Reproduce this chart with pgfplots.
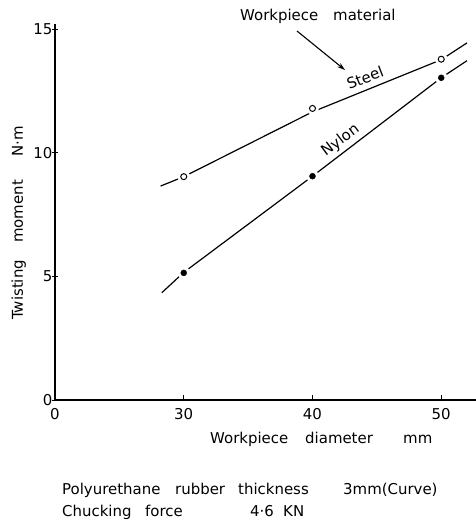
\documentclass[border=0pt]{standalone}
\usepackage{pgfplots}
\pgfplotsset{compat=1.18}
\usepackage{pgfplotstable}
\usetikzlibrary{arrows.meta}
\usepackage{fontspec}
\setmainfont{DejaVu Sans}
\pgfplotstableread{
x y
28.2 8.65
30 9.03
40 11.65
50 13.76
52.0 14.44
}\steelline
\pgfplotstableread{
x y
30 9.03
40 11.79
50 13.78
}\steelpts
\pgfplotstableread{
x y
28.3 4.34
30 5.16
40 9.05
50 13.03
52.0 13.72
}\nylonline
\pgfplotstableread{
x y
30 5.14
40 9.05
50 13.03
}\nylonpts
\begin{document}
\fontsize{15}{18}\selectfont
\begin{tikzpicture}
\path[use as bounding box] (-55bp,-126bp) rectangle (421bp,400bp);
\begin{axis}[
  at={(0,0)}, anchor=south west,
  scale only axis, width=421bp, height=375.9bp,
  xmin=0, xmax=32.7, ymin=0, ymax=15.2,
  axis x line=bottom, axis y line=left,
  axis line style={-, line width=1.2bp},
  xtick={0,10,20,30}, xticklabels={0,30,40,50},
  ytick={0,5,10,15},
  major tick length=5bp,
  tick style={line width=0.9bp, black},
  x tick style={/pgfplots/tick align=inside},
  /pgf/number format/assume math mode=true,
  tick label style={font=\fontsize{15}{18}\selectfont},
  yticklabel style={xshift=5bp},
  xticklabel style={yshift=-1bp},
  clip=false,
]
\addplot[black, line width=1.2bp] table[x expr=\thisrow{x}-20, y=y] {\steelline};
\addplot[black, line width=1.2bp] table[x expr=\thisrow{x}-20, y=y] {\nylonline};
\addplot[only marks, mark=*, mark size=6bp, white, draw=white] table[x expr=\thisrow{x}-20, y=y] {\steelpts};
\addplot[only marks, mark=*, mark size=6bp, white, draw=white] table[x expr=\thisrow{x}-20, y=y] {\nylonpts};
\addplot[only marks, mark=o, mark size=3bp, black, mark options={line width=1bp, fill=white}] table[x expr=\thisrow{x}-20, y=y] {\steelpts};
\addplot[only marks, mark=*, mark size=3bp, black] table[x expr=\thisrow{x}-20, y=y] {\nylonpts};
\end{axis}
\begin{scope}[x=1bp, y=-1bp, shift={(-55bp,400bp)}]
  % y label
  \node[rotate=90, anchor=base west, inner sep=0] at (23,320) {Twisting};
  \node[rotate=90, anchor=base west, inner sep=0] at (23,243) {moment};
  \node[rotate=90, anchor=base west, inner sep=0] at (23,157) {N·m};
  % x label
  \node[anchor=base west, inner sep=0] at (210,444) {Workpiece};
  \node[anchor=base west, inner sep=0] at (305,444) {diameter};
  \node[anchor=base west, inner sep=0] at (403,444) {mm};
  % annotation
  \node[anchor=base west, inner sep=0] at (240,21) {Workpiece};
  \node[anchor=base west, inner sep=0] at (333,21) {material};
  \draw[line width=1.1bp, -{Stealth[length=8bp, width=5bp]}] (297,31) -- (345,70);
  \node[rotate=21, anchor=base, inner sep=0] at (367,83) {Steel};
  \node[rotate=37, anchor=base, inner sep=0] at (343,144) {Nylon};
  % notes
  \node[anchor=base west, inner sep=0] at (62,495) {Polyurethane};
  \node[anchor=base west, inner sep=0] at (175,495) {rubber};
  \node[anchor=base west, inner sep=0] at (238,495) {thickness};
  \node[anchor=base west, inner sep=0] at (343,495) {3mm(Curve)};
  \node[anchor=base west, inner sep=0] at (62,517) {Chucking};
  \node[anchor=base west, inner sep=0] at (145,517) {force};
  \node[anchor=base west, inner sep=0] at (250,517) {4·6};
  \node[anchor=base west, inner sep=0] at (283,517) {KN};
\end{scope}
\end{tikzpicture}
\end{document}
